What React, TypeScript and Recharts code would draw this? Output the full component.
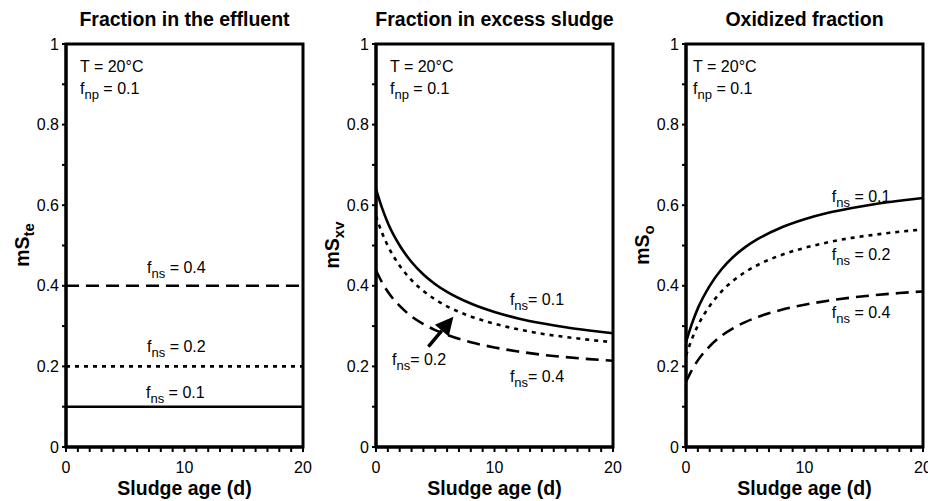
import React from 'react';
import {
  LineChart,
  Line,
  XAxis,
  YAxis,
  ReferenceArea,
  ReferenceDot,
  ReferenceLine
} from 'recharts';

const FONT = '"Liberation Sans", Arial, Helvetica, sans-serif';

// Edad de lodo (d)
const sludgeAge = [0, 0.5, 1, 2, 3, 4, 5, 6, 8, 10, 12, 14, 16, 18, 20];
const effluentAge = [0, 20];

// Fracción en el efluente
const effluentNs01 = [0.1, 0.1];
const effluentNs02 = [0.2, 0.2];
const effluentNs04 = [0.4, 0.4];

// Fracción en el lodo de exceso
const sludgeNs01 = [0.64, 0.594, 0.556, 0.5, 0.459, 0.428, 0.404, 0.385, 0.356, 0.335, 0.319, 0.307, 0.297, 0.289, 0.282];
const sludgeNs02 = [0.573, 0.532, 0.499, 0.45, 0.414, 0.387, 0.366, 0.349, 0.324, 0.306, 0.292, 0.281, 0.273, 0.266, 0.26];
const sludgeNs04 = [0.438, 0.409, 0.385, 0.35, 0.324, 0.305, 0.29, 0.278, 0.26, 0.247, 0.237, 0.229, 0.223, 0.218, 0.214];

// Fracción oxidada
const oxidNs01 = [0.26, 0.306, 0.344, 0.4, 0.441, 0.472, 0.496, 0.515, 0.544, 0.565, 0.581, 0.593, 0.603, 0.611, 0.618];
const oxidNs02 = [0.227, 0.268, 0.301, 0.35, 0.386, 0.413, 0.434, 0.451, 0.476, 0.494, 0.508, 0.519, 0.527, 0.534, 0.54];
const oxidNs04 = [0.162, 0.191, 0.215, 0.25, 0.276, 0.295, 0.31, 0.322, 0.34, 0.353, 0.363, 0.371, 0.377, 0.382, 0.386];

const xTicks = [0, 1, 2, 3, 4, 5, 6, 7, 8, 9, 10, 11, 12, 13, 14, 15, 16, 17, 18, 19, 20];
const xTickLabels = [0, 10, 20];
const yTicks = [0, 0.1, 0.2, 0.3, 0.4, 0.5, 0.6, 0.7, 0.8, 0.9, 1];
const yTickLabels = [0, 0.2, 0.4, 0.6, 0.8, 1];

const titles = ['Fraction in the effluent', 'Fraction in excess sludge', 'Oxidized fraction'];
const yLabelSubs = ['te', 'xv', 'o'];

const SOLID = { strokeWidth: 2.6, strokeDasharray: undefined };
const DOTTED = { strokeWidth: 2.6, strokeDasharray: '4 5' };
const DASHED = { strokeWidth: 2.6, strokeDasharray: '13 7' };

const EXTRA = 14; // espacio extra a la derecha para que no se corte el "20"

const buildRows = (xs: number[], a: number[], b: number[], c: number[]) =>
  xs.map((age, i) => ({ age, ns01: a[i], ns02: b[i], ns04: c[i] }));

// Texto con subíndice: f_ns = 0.1
function SubText(props: any) {
  const { viewBox, main, sub, rest } = props;
  if (!viewBox) return null;
  return (
    <text x={viewBox.x} y={viewBox.y} fill="#000" fontSize={16} fontFamily={FONT}>
      <tspan>{main}</tspan>
      {sub ? (
        <tspan dy={5} fontSize={13}>
          {sub}
        </tspan>
      ) : null}
      <tspan dy={sub ? -5 : 0}>{rest}</tspan>
    </text>
  );
}

interface Note {
  x: number;
  y: number;
  main: string;
  sub?: string;
  rest: string;
}

function Arrow(props: any) {
  const { x1, y1, x2, y2 } = props;
  const ang = Math.atan2(y2 - y1, x2 - x1);
  const len = 18;
  const half = 9;
  const bx = x2 - len * Math.cos(ang);
  const by = y2 - len * Math.sin(ang);
  const px = -Math.sin(ang) * half;
  const py = Math.cos(ang) * half;
  return (
    <g>
      <line x1={x1} y1={y1} x2={bx} y2={by} stroke="#000" strokeWidth={3.5} />
      <polygon points={`${x2},${y2} ${bx + px},${by + py} ${bx - px},${by - py}`} fill="#000" />
    </g>
  );
}

interface PanelProps {
  left: number;
  width: number;
  marginRight: number;
  rows: any[];
  notes: Note[];
  title: string;
  ySub: string;
  arrow?: { x: number; y: number }[];
}

function Panel({ left, width, marginRight, rows, notes, title, ySub, arrow }: PanelProps) {
  const plotLeft = 66;
  const plotRight = width - marginRight;
  const center = (plotLeft + plotRight) / 2;
  return (
    <div style={{ position: 'absolute', left, top: 0, width: width + EXTRA, height: 501 }}>
      <div
        style={{
          position: 'absolute',
          left: center,
          top: 19,
          transform: 'translate(-50%, -50%)',
          whiteSpace: 'nowrap',
          fontFamily: FONT,
          fontWeight: 'bold',
          fontSize: 19.5
        }}
      >
        {title}
      </div>
      <div
        style={{
          position: 'absolute',
          left: 22,
          top: 245,
          transform: 'translate(-50%, -50%) rotate(-90deg)',
          whiteSpace: 'nowrap',
          fontFamily: FONT,
          fontWeight: 'bold',
          fontSize: 19.5
        }}
      >
        mS<span style={{ fontSize: 15, position: 'relative', top: 5 }}>{ySub}</span>
      </div>
      <div
        style={{
          position: 'absolute',
          left: center,
          top: 488,
          transform: 'translate(-50%, -50%)',
          whiteSpace: 'nowrap',
          fontFamily: FONT,
          fontWeight: 'bold',
          fontSize: 19.5
        }}
      >
        Sludge age (d)
      </div>
      <LineChart
        width={width + EXTRA}
        height={501}
        data={rows}
        margin={{ top: 44, right: marginRight + EXTRA, left: 6, bottom: 24 }}
        style={{ position: 'absolute', left: 0, top: 0 }}
      >
        <XAxis
          type="number"
          dataKey="age"
          domain={[0, 20]}
          ticks={xTicks}
          interval={0}
          height={30}
          tickSize={5}
          tickMargin={10}
          tickFormatter={(v: number) => (xTickLabels.includes(v) ? String(v) : '')}
          tick={{ fill: '#000', fontSize: 16, fontFamily: FONT }}
          tickLine={{ stroke: '#000', strokeWidth: 2 }}
          axisLine={{ stroke: '#000', strokeWidth: 3 }}
        />
        <YAxis
          type="number"
          domain={[0, 1]}
          ticks={yTicks}
          interval={0}
          width={60}
          tickSize={4}
          tickMargin={3}
          tickFormatter={(v: number) =>
            yTickLabels.some((t) => Math.abs(t - v) < 1e-6) ? String(Math.round(v * 10) / 10) : ''
          }
          tick={{ fill: '#000', fontSize: 16, fontFamily: FONT }}
          tickLine={{ stroke: '#000', strokeWidth: 2 }}
          axisLine={{ stroke: '#000', strokeWidth: 3 }}
        />
        <ReferenceArea
          x1={0}
          x2={20}
          y1={0}
          y2={1}
          fill="none"
          fillOpacity={0}
          stroke="#000"
          strokeWidth={3}
          ifOverflow="visible"
        />
        <Line type="monotone" dataKey="ns01" stroke="#000" {...SOLID} dot={false} isAnimationActive={false} />
        <Line type="monotone" dataKey="ns02" stroke="#000" {...DOTTED} dot={false} isAnimationActive={false} />
        <Line type="monotone" dataKey="ns04" stroke="#000" {...DASHED} dot={false} isAnimationActive={false} />
        {arrow ? (
          <ReferenceLine
            segment={[arrow[0], arrow[1]]}
            ifOverflow="visible"
            shape={(p: any) => <Arrow {...p} />}
          />
        ) : null}
        {notes.map((n, i) => (
          <ReferenceDot
            key={`note-${i}`}
            x={n.x}
            y={n.y}
            r={0}
            fill="none"
            stroke="none"
            ifOverflow="visible"
            label={{ content: (lp: any) => <SubText {...lp} main={n.main} sub={n.sub} rest={n.rest} /> }}
          />
        ))}
      </LineChart>
    </div>
  );
}

const header = (x: number): Note[] => [
  { x, y: 0.931, main: 'T = 20°C', rest: '' },
  { x, y: 0.875, main: 'f', sub: 'np', rest: ' = 0.1' }
];

const effluentNotes: Note[] = [
  ...header(1.18),
  { x: 6.84, y: 0.431, main: 'f', sub: 'ns', rest: ' = 0.4' },
  { x: 6.84, y: 0.236, main: 'f', sub: 'ns', rest: ' = 0.2' },
  { x: 6.75, y: 0.121, main: 'f', sub: 'ns', rest: ' = 0.1' }
];

const sludgeNotes: Note[] = [
  ...header(1.18),
  { x: 11.3, y: 0.352, main: 'f', sub: 'ns', rest: '= 0.1' },
  { x: 1.35, y: 0.203, main: 'f', sub: 'ns', rest: '= 0.2' },
  { x: 11.3, y: 0.162, main: 'f', sub: 'ns', rest: '= 0.4' }
];

const oxidNotes: Note[] = [
  ...header(0.6),
  { x: 12.3, y: 0.609, main: 'f', sub: 'ns', rest: ' = 0.1' },
  { x: 12.3, y: 0.464, main: 'f', sub: 'ns', rest: ' = 0.2' },
  { x: 12.3, y: 0.319, main: 'f', sub: 'ns', rest: ' = 0.4' }
];

const arrowPoints = [
  { x: 4.42, y: 0.249 },
  { x: 6.53, y: 0.323 }
];

export default function App() {
  return (
    <div
      style={{
        position: 'absolute',
        left: 0,
        top: 0,
        width: 928,
        height: 501,
        overflow: 'hidden',
        background: '#fff'
      }}
    >
      <Panel
        left={0}
        width={310}
        marginRight={7}
        rows={buildRows(effluentAge, effluentNs01, effluentNs02, effluentNs04)}
        notes={effluentNotes}
        title={titles[0]}
        ySub={yLabelSubs[0]}
      />
      <Panel
        left={310}
        width={310}
        marginRight={7}
        rows={buildRows(sludgeAge, sludgeNs01, sludgeNs02, sludgeNs04)}
        notes={sludgeNotes}
        title={titles[1]}
        ySub={yLabelSubs[1]}
        arrow={arrowPoints}
      />
      <Panel
        left={620}
        width={308}
        marginRight={5}
        rows={buildRows(sludgeAge, oxidNs01, oxidNs02, oxidNs04)}
        notes={oxidNotes}
        title={titles[2]}
        ySub={yLabelSubs[2]}
      />
    </div>
  );
}
